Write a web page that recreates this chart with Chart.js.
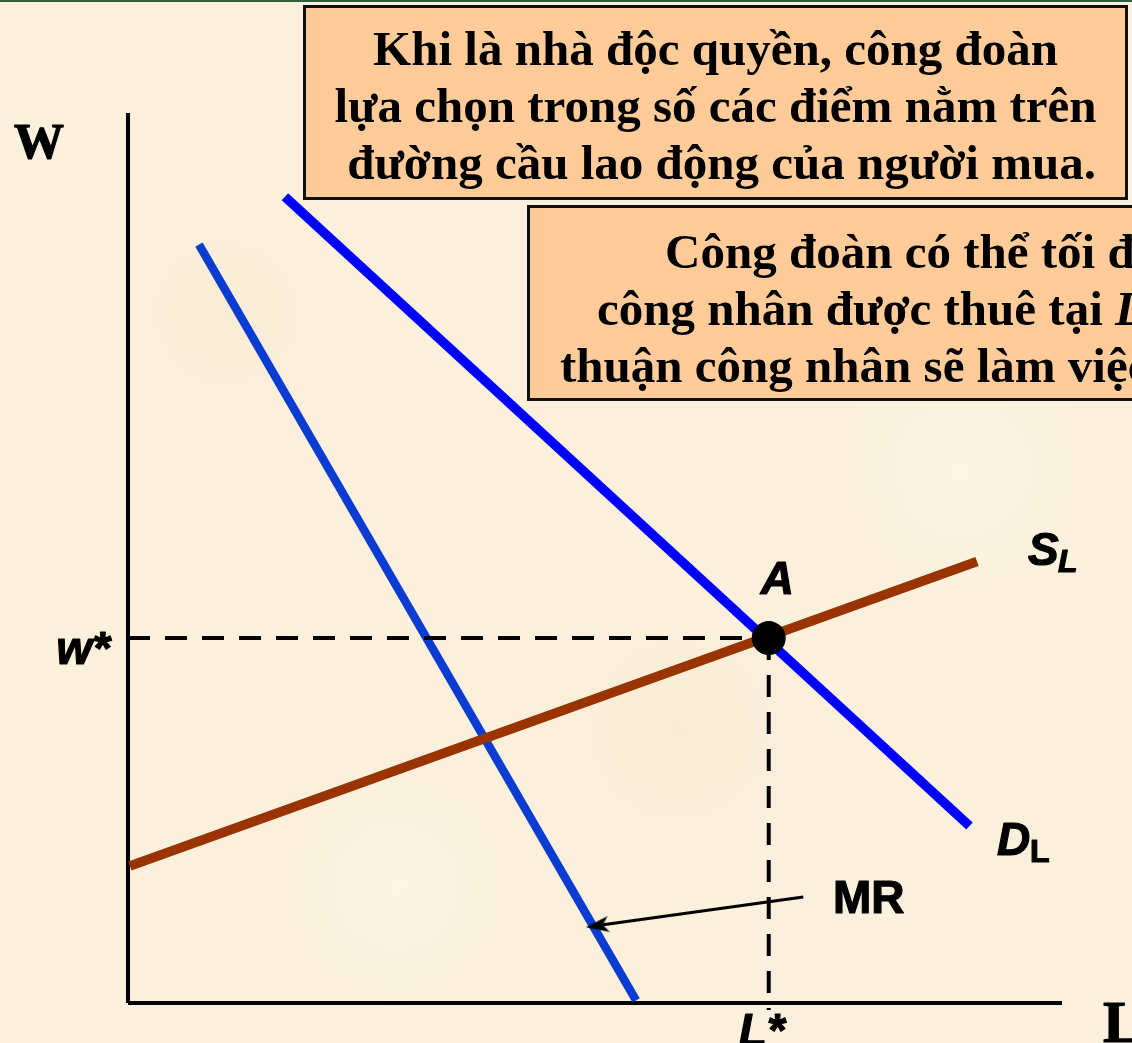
<!DOCTYPE html>
<html>
<head>
<meta charset="utf-8">
<script src="https://cdn.jsdelivr.net/npm/chart.js@4.4.1/dist/chart.umd.min.js"></script>
<style>
  html, body { margin: 0; padding: 0; }
  body {
    width: 1132px; height: 1043px; overflow: hidden; position: relative;
    background-color: #fbf0dc;
    background-image:
      radial-gradient(circle at 20% 30%, rgba(242,230,200,0.35) 0, rgba(242,230,200,0) 120px),
      radial-gradient(circle at 60% 70%, rgba(242,230,200,0.35) 0, rgba(242,230,200,0) 150px),
      radial-gradient(circle at 85% 45%, rgba(255,249,238,0.5) 0, rgba(255,249,238,0) 140px),
      radial-gradient(circle at 35% 85%, rgba(255,249,238,0.5) 0, rgba(255,249,238,0) 130px);
  }
  #topline { position: absolute; left: 0; top: 0; width: 1132px; height: 2px; background: #2f5e3c; }
  canvas { position: absolute; left: 0; top: 0; }
  .box {
    position: absolute; background: #ffcc99; border: 3px solid #111;
    font-family: "Liberation Serif", "Times New Roman", serif; font-weight: bold;
    font-size: 49px; line-height: 57px; color: #000; white-space: nowrap; overflow: hidden;
    box-sizing: border-box;
  }
  #box1 { left: 303px; top: 5px; width: 825px; height: 195px; text-align: center; padding-top: 12px; }
  #box2 { left: 527px; top: 205px; width: 640px; height: 196px; padding-top: 15px; }
  #box2 div { position: relative; }
</style>
</head>
<body>
<div id="topline"></div>
<canvas id="chart" width="1132" height="1043"></canvas>
<div class="box" id="box1">
  <div>Khi là nhà độc quyền, công đoàn</div>
  <div>lựa chọn trong số các điểm nằm trên</div>
  <div>&nbsp;đường cầu lao động của người mua.</div>
</div>
<div class="box" id="box2">
  <div style="left:135px">Công đoàn có thể tối đa hóa số lượng</div>
  <div style="left:67px">công nhân được thuê tại <i>L</i>*, bằng cách thỏa</div>
  <div style="left:30px">thuận công nhân sẽ làm việc với mức lương</div>
</div>
<script>
// curve end points (L on x, W on y, both 0..100)
var demandL = [16.8, 90.1];
var demandW = [90.6, 19.9];
var mrL = [7.6, 54.4];
var mrW = [85.2, 0.3];
var supplyL = [0.2, 90.9];
var supplyW = [15.4, 49.6];
var pointA = { L: 68.6, W: 41.0 };
var arrowL = [72.3, 50.3];
var arrowW = [11.9, 8.7];

function pts(xs, ys) {
    return xs.map(function (x, i) { return { x: x, y: ys[i] }; });
}

// arrow head image, pointing up
var head = document.createElement('canvas');
head.width = 20; head.height = 24;
var hc = head.getContext('2d');
hc.fillStyle = '#000';
hc.beginPath();
hc.moveTo(10, 0);
hc.lineTo(18, 23);
hc.lineTo(10, 17);
hc.lineTo(2, 23);
hc.closePath();
hc.fill();

function label(ctx, text, x, y) {
    ctx.fillText(text, x, y);
    ctx.strokeText(text, x, y);
}

var labelsPlugin = {
    id: 'labels',
    afterDatasetsDraw: function (chart) {
        var ctx = chart.ctx;
        var sx = chart.scales.x, sy = chart.scales.y;
        var ax = sx.getPixelForValue(pointA.L), ay = sy.getPixelForValue(pointA.W);
        ctx.save();
        ctx.fillStyle = '#000';
        ctx.strokeStyle = '#000';
        ctx.lineWidth = 1.2;
        ctx.lineJoin = 'round';
        ctx.textBaseline = 'alphabetic';

        ctx.font = 'bold 50px "Liberation Serif"';
        ctx.textAlign = 'left';
        label(ctx, 'W', 14, 158);
        ctx.font = 'bold 60px "Liberation Serif"';
        label(ctx, 'L', 1103, 1042);

        ctx.font = 'italic bold 46px "Liberation Sans"';
        ctx.textAlign = 'right';
        label(ctx, 'w*', 110, 664);
        ctx.textAlign = 'left';
        label(ctx, 'A', ax - 8, ay - 44);
        label(ctx, 'L*', ax - 30, ay + 408);
        label(ctx, 'S', 1028, 565);
        label(ctx, 'D', 997, 855);
        ctx.font = 'italic bold 32px "Liberation Sans"';
        label(ctx, 'L', 1058, 572);
        ctx.font = 'bold 32px "Liberation Sans"';
        label(ctx, 'L', 1030, 862);

        ctx.font = 'bold 46px "Liberation Sans"';
        label(ctx, 'MR', 833, 913);
        ctx.restore();
    }
};

function drawChart() {
    var ctx = document.getElementById('chart').getContext('2d');
    new Chart(ctx, {
        type: 'scatter',
        data: {
            datasets: [
                {
                    label: 'A', data: [{ x: pointA.L, y: pointA.W }],
                    pointRadius: 17, pointBackgroundColor: '#000', pointBorderWidth: 0, order: 0
                },
                {
                    label: 'arrow', data: pts(arrowL, arrowW), showLine: true,
                    borderColor: '#000', borderWidth: 3,
                    pointRadius: [0, 10], pointStyle: [false, head], pointRotation: 262,
                    pointBackgroundColor: '#000', pointBorderWidth: 0, order: 1
                },
                {
                    label: 'w*', data: [{ x: 0, y: pointA.W }, { x: pointA.L, y: pointA.W }], showLine: true,
                    borderColor: '#000', borderWidth: 4, borderDash: [22, 15], pointRadius: 0, order: 2
                },
                {
                    label: 'L*', data: [{ x: pointA.L, y: pointA.W }, { x: pointA.L, y: -0.8 }], showLine: true,
                    borderColor: '#000', borderWidth: 4, borderDash: [22, 15], pointRadius: 0, order: 2
                },
                {
                    label: 'DL', data: pts(demandL, demandW), showLine: true,
                    borderColor: '#0000ff', borderWidth: 9.5, pointRadius: 0, order: 3
                },
                {
                    label: 'SL', data: pts(supplyL, supplyW), showLine: true,
                    borderColor: '#993300', borderWidth: 9.5, pointRadius: 0, order: 4
                },
                {
                    label: 'MR', data: pts(mrL, mrW), showLine: true,
                    borderColor: '#0a3cd2', borderWidth: 8.5, pointRadius: 0, order: 5
                },
                {
                    label: 'axisY', data: [{ x: 0, y: 0 }, { x: 0, y: 100 }], showLine: true,
                    borderColor: '#000', borderWidth: 4, pointRadius: 0, order: 6
                },
                {
                    label: 'axisX', data: [{ x: 0, y: 0 }, { x: 100, y: 0 }], showLine: true,
                    borderColor: '#000', borderWidth: 4, pointRadius: 0, order: 6
                }
            ]
        },
        options: {
            responsive: false,
            animation: false,
            clip: false,
            layout: { padding: { left: 128, right: 70, top: 113, bottom: 40 } },
            plugins: { legend: { display: false }, tooltip: { enabled: false } },
            scales: {
                x: { type: 'linear', min: 0, max: 100, display: false },
                y: { type: 'linear', min: 0, max: 100, display: false }
            }
        },
        plugins: [labelsPlugin]
    });
}

Promise.all([
    document.fonts.load('italic bold 46px "Liberation Sans"'),
    document.fonts.load('bold 46px "Liberation Sans"'),
    document.fonts.load('bold 50px "Liberation Serif"')
]).then(drawChart, drawChart);
</script>
</body>
</html>
